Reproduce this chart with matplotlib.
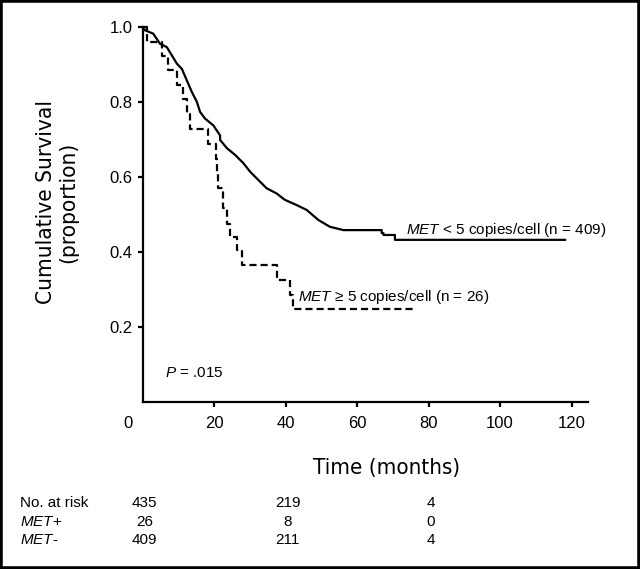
import matplotlib
matplotlib.use("Agg")
import matplotlib.pyplot as plt
from matplotlib.patches import Rectangle
from matplotlib.transforms import ScaledTranslation

plt.rcParams['font.family'] = ['Liberation Sans', 'DejaVu Sans']
plt.rcParams['mathtext.fontset'] = 'custom'
plt.rcParams['mathtext.rm'] = 'Liberation Sans'
plt.rcParams['mathtext.it'] = 'Liberation Sans:italic'

# MET < 5 copies/cell (months, proportion)
low_t = [0, 0.7, 3.0, 4.9, 6.8, 8.2, 9.6, 11.0, 12.4, 13.8, 15.2, 16.1, 17.5, 19.8,
         21.7, 21.7, 23.6, 25.9, 28.2, 30.1, 32.4, 34.7, 37.5, 39.8, 43.1, 45.9,
         49.2, 52.4, 56.2, 66.9, 66.9, 67.4, 67.4, 70.6, 70.6, 118.2]
low_s = [1.0, 0.992, 0.983, 0.956, 0.947, 0.925, 0.903, 0.889, 0.858, 0.827, 0.801,
         0.774, 0.756, 0.738, 0.711, 0.699, 0.677, 0.659, 0.637, 0.614, 0.592, 0.570,
         0.556, 0.539, 0.525, 0.512, 0.485, 0.467, 0.458, 0.458, 0.450, 0.450, 0.445,
         0.445, 0.432, 0.432]

# MET >= 5 copies/cell (step times and survival after each step)
high_t = [0, 1.2, 5.4, 7.2, 9.6, 11.4, 12.4, 13.3, 18.2, 20.6, 20.9, 21.2, 22.6,
          23.6, 24.5, 26.3, 27.7, 37.5, 41.3, 42.0, 75.8]
high_s = [1.0, 0.962, 0.923, 0.885, 0.846, 0.808, 0.769, 0.727, 0.687, 0.648, 0.610,
          0.570, 0.516, 0.474, 0.440, 0.405, 0.365, 0.324, 0.285, 0.246, 0.246]

xticks = [0, 20, 40, 60, 80, 100, 120]
yticks = [0.2, 0.4, 0.6, 0.8, 1.0]

risk_times = [0, 40, 80]
risk_rows = ['No. at risk', r'$\mathit{MET}$+', r'$\mathit{MET}$-']
risk_all = [435, 219, 4]
risk_pos = [26, 8, 0]
risk_neg = [409, 211, 4]

W, H = 640, 569
fig = plt.figure(figsize=(6.4, 5.69), dpi=100)
ax = fig.add_axes([142.5 / W, (H - 401.5) / H, (588 - 142.5) / W, (401.5 - 27.3) / H])

ax.plot(low_t, low_s, color='black', lw=1.6, clip_on=False)
ax.step(high_t, high_s, where='post', color='black', lw=1.6,
        linestyle=(0, (3.2, 1.8)), clip_on=False)

ax.set_xlim(0, 124.6)
ax.set_ylim(0, 1.0)
ax.spines['top'].set_visible(False)
ax.spines['right'].set_visible(False)
for s in ['left', 'bottom']:
    ax.spines[s].set_linewidth(1.6)

ax.set_yticks(yticks)
ax.set_yticklabels(['%.1f' % v for v in yticks])
ax.set_xticks(xticks)
ax.set_xticklabels([str(v) for v in xticks])
ax.tick_params(axis='both', direction='out', length=3.6, width=1.6, labelsize=12)
ax.tick_params(axis='x', pad=7)
ax.xaxis.get_major_ticks()[0].tick1line.set_visible(False)
lab0 = ax.get_xticklabels()[0]
lab0.set_transform(lab0.get_transform() + ScaledTranslation(-14.5 / 100, 0, fig.dpi_scale_trans))

ax.text(73.7, 0.458, r'$\mathit{MET}$ < 5 copies/cell (n = 409)', fontsize=11, va='center')
ax.text(43.5, 0.280, r'$\mathit{MET}$ ≥ 5 copies/cell (n = 26)', fontsize=11, va='center')
ax.text(6.3, 0.076, r'$\mathit{P}$ = .015', fontsize=11, va='center')

fig.text(57 / W, 1 - 202.5 / H, 'Cumulative Survival\n(proportion)', rotation=90,
         ha='center', va='center', multialignment='center', fontsize=16.2,
         family='DejaVu Sans', stretch='condensed', linespacing=1.15)
fig.text(387 / W, 1 - 468 / H, 'Time (months)', ha='center', va='center', fontsize=16,
         family='DejaVu Sans', stretch='condensed')

row_y = [503, 522, 540]
for lab, vals, yy in zip(risk_rows, [risk_all, risk_pos, risk_neg], row_y):
    fig.text(20 / W, 1 - yy / H, lab, ha='left', va='center', fontsize=11)
    for t, v in zip(risk_times, vals):
        xpix = 142.5 + 3.575 * t + 2
        fig.text(xpix / W, 1 - yy / H, str(v), ha='center', va='center', fontsize=11)

fig.add_artist(Rectangle((0, 0), 1, 1, transform=fig.transFigure, fill=False,
                         edgecolor='black', lw=4, clip_on=False))

fig.savefig('out.png', dpi=100)
